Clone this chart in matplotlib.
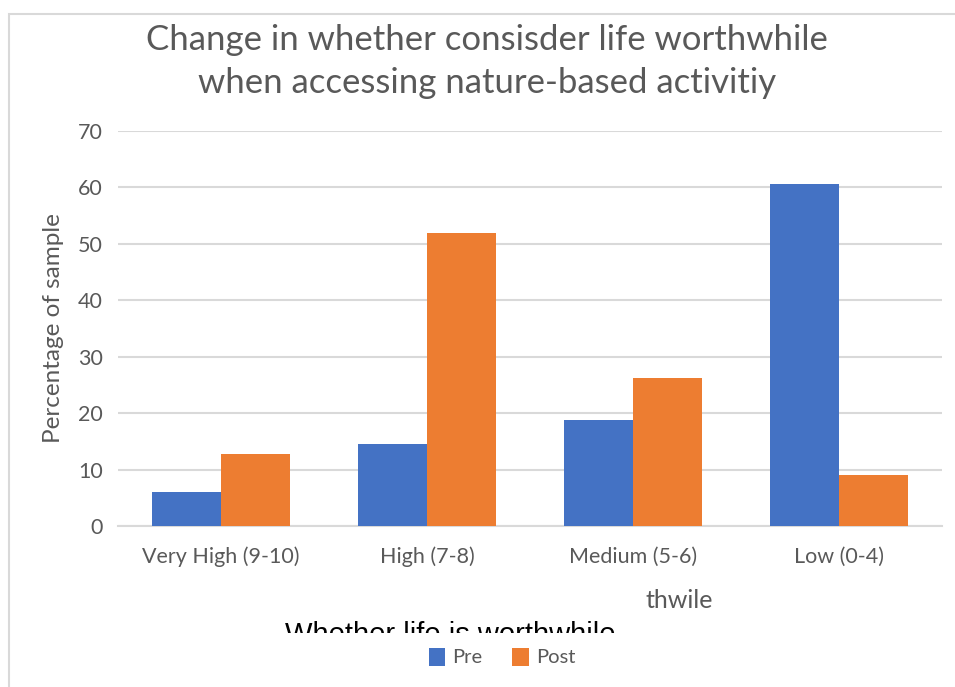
import matplotlib.pyplot as plt
from matplotlib.patches import Rectangle
import numpy as np

categories = ["Very High (9-10)", "High (7-8)", "Medium (5-6)", "Low (0-4)"]
pre = [6.0, 14.5, 18.8, 60.6]
post = [12.8, 51.9, 26.2, 9.0]

title_lines = ["Change in whether consisder life worthwhile",
               "when accessing nature-based activitiy"]
ylabel = "Percentage of sample"
xlabel = "Whether life is worthwhile"

BLUE = "#4472C4"
ORANGE = "#ED7D31"
TEXT = "#595959"
GRID = "#D9D9D9"

plt.rcParams["font.family"] = ["Lato", "DejaVu Sans"]

W, H = 955, 687
fig = plt.figure(figsize=(W / 100, H / 100), dpi=100)


def fx(px):
    return px / W


def fy(py):
    return 1 - py / H


# light frame round the chart area
fig.patches.append(Rectangle((fx(8.5), fy(H + 5)), 1.2, fy(14) - fy(H + 5),
                             transform=fig.transFigure, fill=False,
                             edgecolor=GRID, linewidth=1.5))

ax = fig.add_axes([fx(118), fy(526), fx(942) - fx(118), fy(131) - fy(526)])

x = np.arange(len(categories))
bw = 1 / 3
ax.bar(x - bw / 2, pre, width=bw, color=BLUE, label="Pre", zorder=3)
ax.bar(x + bw / 2, post, width=bw, color=ORANGE, label="Post", zorder=3)

ax.set_xlim(-0.5, len(categories) - 0.5)
ax.set_ylim(0, 70)
ax.set_yticks(range(0, 71, 10))
ax.set_xticks(x)
ax.set_xticklabels(categories)
ax.grid(axis="y", color=GRID, linewidth=1.5, zorder=0)
for side in ["top", "right", "left"]:
    ax.spines[side].set_visible(False)
ax.spines["bottom"].set_color(GRID)
ax.spines["bottom"].set_linewidth(1.5)
ax.tick_params(axis="both", length=0, colors=TEXT, labelsize=15.5)
ax.tick_params(axis="x", pad=15)
ax.tick_params(axis="y", pad=11)

for line, ypx in zip(title_lines, [40, 83]):
    fig.text(fx(487), fy(ypx), line, ha="center", va="center", fontsize=25,
             color=TEXT)
fig.text(fx(53), fy(328), ylabel, ha="center", va="center", rotation=90,
         fontsize=17.5, color=TEXT)
fig.text(fx(679), fy(600), "thwile", ha="center", va="center", fontsize=18,
         color=TEXT)

# axis title partly hidden below the category labels
t = fig.text(fx(450), fy(643), xlabel, ha="center", va="baseline", fontsize=21,
             color="black", family="Liberation Sans")
clip = Rectangle((0, fy(633)), 1, fy(600) - fy(633), transform=fig.transFigure,
                 visible=False)
fig.patches.append(clip)
t.set_clip_path(clip)

fig.legend(loc="center", bbox_to_anchor=(fx(502), fy(657)), ncol=2,
           frameon=False, fontsize=14.5, handlelength=0.8, handleheight=1.0,
           handletextpad=0.35, columnspacing=1.5, labelcolor=TEXT)

fig.savefig("out.png", dpi=100)
